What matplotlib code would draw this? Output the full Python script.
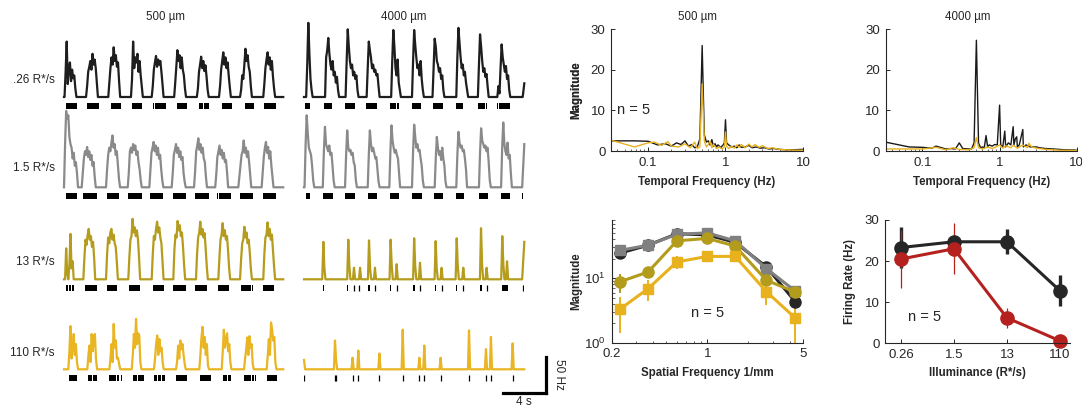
import matplotlib
matplotlib.use('Agg')
import matplotlib.pyplot as plt

plt.rcParams['font.family'] = ['Liberation Sans', 'DejaVu Sans']
plt.rcParams['mathtext.fontset'] = 'custom'
plt.rcParams['mathtext.rm'] = 'Liberation Sans'
plt.rcParams['mathtext.it'] = 'Liberation Sans:italic'
plt.rcParams['mathtext.bf'] = 'Liberation Sans:bold'
INK = '#262626'

# ------------------------------------------------------------------ data
row_labels = ['.26 R*/s', '1.5 R*/s', '13 R*/s', '110 R*/s']
col_titles = ['500 \u00b5m', '4000 \u00b5m']
trace_colors = ['#1e1e1e', '#8a8a8a', '#b59c1d', '#e9b522']

# --- 500 um, 0.26 R*/s
on_a1 = [0.05, 2.04, 4.1, 6.2, 8.12, 10.2, 12.3, 14.35, 16.3, 18.45]
pr_a1 = [[0, 35, 77, 18, 40, 48, 22, 38, 26, 30, 12, 0],
         [0, 15, 35, 42, 50, 38, 60, 45, 52, 40, 20, 0],
         [0, 20, 40, 55, 45, 69, 50, 58, 42, 48, 22, 0],
         [0, 25, 77, 40, 55, 48, 60, 35, 50, 30, 15, 0],
         [0, 15, 38, 48, 57, 42, 52, 45, 50, 35, 18, 0],
         [0, 20, 42, 65, 50, 58, 40, 55, 38, 30, 12, 0],
         [0, 12, 35, 45, 56, 40, 50, 36, 44, 28, 10, 0],
         [0, 15, 38, 50, 62, 45, 55, 40, 48, 30, 14, 0],
         [0, 10, 30, 25, 45, 67, 50, 58, 42, 35, 15, 0],
         [0, 18, 40, 52, 62, 45, 55, 38, 50, 28, 12, 0]]
ends_a1 = ([20.3], [0])
ras_a1 = [[0.19, 1.18], [2.16, 3.27], [4.32, 5.25], [6.32, 7.25], [8.27, 8.35], [8.45, 9.42],
          [10.49, 11.42], [12.5, 12.9], [13.0, 13.45], [14.6, 15.58], [16.55, 16.62],
          [16.75, 17.6], [18.55, 19.63]]

# --- 500 um, 1.5 R*/s
on_a2 = [0.0, 1.64, 3.89, 5.9, 7.9, 9.97, 12.04, 14.0, 16.14, 18.3]
pr_a2 = [[0, 60, 106, 95, 100, 70, 60, 55, 40, 48, 30, 35, 20, 0],
         [0, 20, 40, 50, 45, 56, 42, 50, 38, 45, 30, 35, 15, 0],
         [0, 25, 45, 55, 50, 62, 72, 55, 60, 45, 50, 30, 12, 0],
         [0, 20, 50, 55, 48, 60, 52, 58, 45, 50, 35, 25, 10, 0],
         [0, 25, 48, 55, 63, 50, 58, 45, 55, 40, 45, 25, 10, 0],
         [0, 20, 45, 52, 60, 48, 55, 42, 50, 38, 42, 20, 8, 0],
         [0, 22, 50, 58, 68, 52, 60, 48, 55, 40, 35, 15, 0],
         [0, 18, 42, 50, 58, 45, 52, 40, 48, 35, 38, 20, 0],
         [0, 15, 30, 45, 50, 65, 48, 55, 42, 50, 35, 18, 0],
         [0, 20, 42, 55, 63, 48, 56, 40, 50, 30, 15, 0]]
ends_a2 = ([20.3], [0])
ras_a2 = [[0.16, 1.18], [1.79, 3.03], [3.95, 5.09], [5.95, 7.19], [7.96, 9.19], [10.06, 11.3],
          [12.13, 13.43], [14.14, 14.3], [14.38, 15.46], [16.3, 17.53], [18.4, 19.63]]

# --- 500 um, 13 R*/s
on_a3 = [0.1, 1.79, 3.89, 5.95, 8.12, 10.12, 12.22, 14.29, 16.3, 18.45]
pr_a3 = [[0, 43, 8, 0, 20, 63, 15, 25, 0],
         [0, 30, 55, 48, 62, 70, 55, 60, 45, 52, 30, 0],
         [0, 35, 58, 50, 65, 70, 55, 62, 50, 45, 25, 0],
         [0, 30, 55, 60, 84, 65, 72, 60, 68, 55, 30, 0],
         [0, 35, 60, 55, 70, 80, 65, 72, 58, 50, 25, 0],
         [0, 40, 62, 58, 81, 68, 75, 60, 65, 45, 20, 0],
         [0, 35, 58, 65, 80, 62, 70, 58, 64, 42, 18, 0],
         [0, 30, 55, 62, 78, 60, 68, 55, 60, 40, 15, 0],
         [0, 28, 50, 55, 73, 58, 65, 50, 55, 38, 15, 0],
         [0, 35, 58, 62, 79, 60, 70, 55, 62, 40, 18, 0]]
ends_a3 = ([20.3], [0])
ras_a3 = [[0.19, 0.35], [0.46, 0.62], [0.77, 0.93], [1.94, 3.03], [3.95, 4.94], [6.05, 7.04],
          [8.21, 9.26], [10.12, 11.3], [12.13, 13.27], [14.29, 15.31], [16.36, 17.3],
          [17.4, 17.53], [18.46, 19.44]]

# --- 500 um, 110 R*/s
on_a4 = [0.4, 2.16, 4.2, 6.27, 8.33, 10.37, 12.53, 14.6, 16.67, 18.77]
pr_a4 = [[0, 25, 60, 15, 30, 49, 20, 35, 10, 0],
         [0, 20, 33, 10, 49, 25, 45, 49, 15, 0],
         [0, 15, 35, 10, 63, 30, 40, 15, 16, 8, 0],
         [0, 20, 49, 30, 70, 35, 50, 47, 10, 0],
         [0, 15, 35, 47, 20, 42, 25, 30, 10, 0],
         [0, 10, 33, 15, 40, 28, 35, 20, 8, 0],
         [0, 20, 45, 59, 30, 45, 20, 35, 5, 0],
         [0, 25, 55, 30, 40, 50, 25, 35, 10, 0],
         [0, 15, 28, 44, 20, 46, 30, 35, 8, 0],
         [0, 20, 42, 20, 65, 55, 40, 45, 10, 0]]
ends_a4 = ([20.3], [0])
ras_a4 = [[0.46, 1.23], [2.25, 2.6], [2.68, 3.09], [4.2, 4.5], [4.58, 4.85], [4.93, 5.1],
          [5.25, 5.34], [6.42, 6.8], [6.88, 7.41], [8.33, 8.6], [8.68, 9.0], [9.08, 9.35],
          [10.37, 10.7], [10.78, 11.36], [12.59, 13.58], [14.7, 15.1], [15.18, 15.46],
          [16.67, 17.3], [17.38, 17.6], [17.7, 17.78], [18.77, 19.69]]

# --- 4000 um, 0.26 R*/s
on_b1 = [0.2, 1.95, 3.85, 5.8, 8.07, 10.0, 11.9, 14.1, 16.1, 17.9]
pr_b1 = [[0, 45, 103, 60, 25, 10, 0],
         [0, 55, 65, 82, 60, 45, 38, 50, 30, 35, 20, 28, 10, 0],
         [0, 50, 94, 70, 50, 40, 45, 30, 35, 25, 30, 10, 0],
         [0, 40, 77, 65, 55, 40, 45, 35, 38, 30, 32, 15, 0],
         [0, 50, 93, 70, 40, 30, 52, 20, 10, 0],
         [0, 50, 93, 72, 55, 40, 45, 30, 50, 25, 10, 0],
         [0, 40, 81, 70, 50, 45, 35, 40, 25, 30, 10, 0],
         [0, 55, 96, 75, 55, 40, 45, 30, 35, 20, 10, 0],
         [0, 45, 87, 70, 50, 35, 40, 28, 32, 15, 0],
         [0, 15, 5, 40, 73, 55, 45, 35, 43, 25, 30, 10, 0]]
ends_b1 = ([20.25, 20.4], [0, 19])
ras_b1 = [[0.09, 0.56], [1.88, 2.56], [3.8, 4.72], [5.74, 6.73], [7.96, 8.52], [8.64, 8.8],
          [9.97, 10.83], [11.91, 12.9], [14.07, 14.75], [16.08, 16.76], [16.82, 16.94],
          [17.84, 17.93], [18.05, 19.07]]

# --- 4000 um, 1.5 R*/s
on_b2 = [0.05, 1.74, 3.8, 5.9, 7.9, 10.0, 12.1, 14.1, 16.2, 18.25]
pr_b2 = [[0, 60, 100, 75, 55, 50, 45, 30, 10, 0],
         [0, 50, 84, 60, 55, 50, 58, 45, 48, 30, 10, 0],
         [0, 45, 79, 55, 50, 52, 45, 48, 35, 30, 10, 0],
         [0, 45, 79, 60, 50, 55, 48, 40, 42, 25, 8, 0],
         [0, 50, 86, 65, 55, 48, 52, 45, 40, 20, 0],
         [0, 50, 87, 70, 55, 60, 50, 52, 40, 30, 10, 0],
         [0, 40, 70, 55, 45, 50, 38, 55, 40, 30, 8, 0],
         [0, 45, 77, 62, 55, 58, 50, 52, 40, 25, 0],
         [0, 48, 82, 65, 60, 55, 58, 50, 55, 35, 10, 0],
         [0, 55, 90, 60, 50, 45, 62, 40, 45, 20, 0]]
ends_b2 = ([20.2, 20.4], [0, 60])
ras_b2 = [[0.19, 0.56], [1.79, 2.65], [3.8, 4.72], [5.9, 6.79], [7.96, 8.83], [10.0, 10.9],
          [12.07, 12.9], [14.07, 14.81], [16.17, 17.07], [18.24, 19.07], [20.2, 20.3]]

# --- 4000 um, 13 R*/s
on_b3 = [1.69, 4.0, 4.53, 5.09, 5.92, 6.47, 7.92, 8.48, 10.1, 10.64, 12.09, 12.64,
         14.04, 14.65, 16.29, 16.81, 18.26, 18.7]
pr_b3 = [[0, 52, 15, 0], [0, 55, 18, 0], [0, 16, 0], [0, 16, 0], [0, 54, 15, 0], [0, 16, 0],
         [0, 55, 20, 0], [0, 21, 0], [0, 57, 18, 0], [0, 23, 0], [0, 53, 15, 0], [0, 16, 0],
         [0, 57, 18, 0], [0, 16, 0], [0, 71, 20, 0], [0, 16, 0], [0, 60, 20, 0], [0, 25, 0]]
ends_b3 = ([20.2, 20.4], [0, 52])
ras_b3 = [[1.74, 1.86], [3.98, 4.12], [5.96, 6.08], [7.95, 8.1], [10.13, 10.27],
          [12.12, 12.26], [14.07, 14.21], [16.32, 16.46], [18.3, 18.92]]
tick_b3 = [4.63, 5.12, 6.57, 8.58, 10.74, 12.74, 14.75, 16.91, 20.25]

# --- 4000 um, 110 R*/s
on_b4 = [2.77, 4.4, 4.93, 6.88, 9.04, 10.58, 11.04, 12.55, 15.18, 16.75, 17.21, 19.22]
pr_b4 = [[0, 40, 13, 0], [0, 16, 0], [0, 26, 0], [0, 22, 0], [0, 55, 0], [0, 16, 0],
         [0, 33, 0], [0, 16, 0], [0, 54, 0], [0, 28, 0], [0, 45, 0], [0, 36, 0]]
starts_b4 = ([0.0, 0.1], [13, 0])
ends_b4 = ([20.4], [0])
tick_b4 = [0.0, 2.87, 3.0, 4.5, 5.03, 6.98, 9.14, 10.68, 11.14, 12.65, 15.28, 16.85, 17.31, 19.32]

# --- temporal spectra
tf_500_dim = [0.033, 0.067, 0.1, 0.133, 0.167, 0.2, 0.233, 0.267, 0.3, 0.333, 0.367, 0.4,
              0.433, 0.467, 0.5, 0.533, 0.567, 0.6, 0.633, 0.667, 0.7, 0.733, 0.767, 0.8,
              0.833, 0.867, 0.9, 0.933, 0.967, 1.0, 1.033, 1.1, 1.2, 1.3, 1.4, 1.5, 1.6, 1.8,
              2.0, 2.2, 2.5, 2.8, 3.2, 3.6, 4.2, 5.0, 6.0, 7.5, 10.0]
mag_500_dim = [2.5, 2.5, 2.4, 1.5, 1.8, 1.2, 2.0, 1.6, 2.5, 1.2, 1.6, 0.8,
               1.0, 3.0, 26.0, 4.0, 2.2, 2.5, 1.5, 2.8, 1.2, 1.8, 1.0, 1.5,
               1.2, 0.8, 1.2, 1.5, 2.0, 7.7, 2.0, 1.5, 1.0, 1.2, 0.8, 1.5, 0.9, 1.0,
               1.4, 0.8, 1.0, 0.7, 0.8, 0.5, 0.6, 0.4, 0.3, 0.3, 0.4]
tf_500_bright = [0.033, 0.067, 0.1, 0.12, 0.15, 0.18, 0.2, 0.25, 0.3, 0.35, 0.4, 0.433,
                 0.467, 0.5, 0.533, 0.567, 0.6, 0.633, 0.667, 0.7, 0.767, 0.833, 0.9, 0.967,
                 1.0, 1.033, 1.1, 1.2, 1.3, 1.4, 1.5, 1.6, 1.8, 2.0, 2.2, 2.4, 2.7, 3.0, 3.5,
                 4.0, 5.0, 6.0, 8.0, 10.0]
mag_500_bright = [2.7, 1.0, 2.0, 2.2, 1.4, 2.3, 1.2, 1.0, 1.8, 0.8, 2.2, 0.6,
                  1.0, 16.5, 2.5, 1.0, 1.6, 2.4, 0.8, 1.6, 0.6, 1.0, 0.5, 1.0,
                  4.7, 1.2, 0.6, 1.2, 0.7, 1.5, 0.9, 1.6, 0.8, 1.7, 1.0, 1.6, 0.9, 1.3, 0.6,
                  0.8, 0.4, 0.3, 0.2, 0.2]
tf_4000_dim = [0.033, 0.067, 0.1, 0.133, 0.15, 0.2, 0.233, 0.267, 0.3, 0.333, 0.4, 0.433,
               0.467, 0.5, 0.533, 0.567, 0.6, 0.633, 0.667, 0.7, 0.733, 0.8, 0.867, 0.933,
               1.0, 1.033, 1.1, 1.167, 1.2, 1.3, 1.4, 1.5, 1.533, 1.6, 1.667, 1.7, 1.8, 2.0,
               2.033, 2.2, 2.5, 3.0, 3.3, 4.0, 5.0, 7.0, 10.0]
mag_4000_dim = [2.2, 1.0, 0.9, 0.7, 1.2, 0.5, 0.6, 0.5, 2.0, 0.6, 0.5, 0.5,
                2.0, 27.3, 2.0, 0.8, 1.0, 0.8, 3.8, 1.0, 1.5, 1.2, 1.6, 1.5,
                11.3, 1.5, 1.0, 4.9, 1.0, 2.0, 1.5, 6.0, 1.5, 3.0, 3.5, 1.0, 1.5, 5.3,
                1.0, 1.5, 1.0, 1.0, 0.8, 0.6, 0.5, 0.3, 0.2]
tf_4000_bright = [0.033, 0.067, 0.1, 0.15, 0.2, 0.25, 0.3, 0.4, 0.467, 0.5, 0.533, 0.6, 0.7,
                  0.8, 0.9, 1.0, 1.1, 1.2, 1.4, 1.5, 1.7, 2.0, 2.3, 2.4, 2.6, 3.0, 4.0, 6.0,
                  10.0]
mag_4000_bright = [0.5, 0.5, 0.5, 0.9, 0.3, 0.8, 0.4, 0.3, 0.8, 3.3, 0.8, 0.5, 1.0,
                   0.6, 1.0, 1.5, 0.7, 1.3, 0.8, 1.4, 0.7, 1.5, 0.8, 1.9, 1.0, 0.7, 0.4, 0.2,
                   0.1]

# --- spatial tuning
sf = [0.23, 0.37, 0.6, 1.0, 1.6, 2.7, 4.4]
sp_026 = [24.5, 32.5, 49, 47, 36, 15, 4.3]
sp_026_err = [2, 2, 2.5, 2, 2, 2.7, 0.8]
sp_15 = [27, 32.5, 48, 50.5, 38, 14.1, 6.3]
sp_15_err = [2, 2, 2, 2, 2, 2, 1]
sp_13 = [8.8, 12.5, 38, 41.5, 31.5, 9.3, 6.1]
sp_13_err = [3, 2, 3, 3, 3, 2, 1]
sp_110 = [3.3, 6.9, 17.9, 21.8, 21.8, 6.2, 2.4]
sp_110_err = [1.9, 2.5, 4, 2, 2, 2.4, 1.5]

# --- firing rate vs illuminance
illum = ['0.26', '1.5', '13', '110']
fr_500 = [23.3, 24.7, 24.7, 12.8]
fr_500_err = [5, 1, 3, 3.8]
fr_4000 = [20.5, 23.0, 6.2, 0.6]
fr_4000_err = [7, 6.2, 2.5, 0.5]

# ------------------------------------------------------------------ layout
W, H = 1082, 407
fig = plt.figure(figsize=(W / 100, H / 100), dpi=100)


def ax_px(l, t, r, b):
    return fig.add_axes([l / W, 1 - b / H, (r - l) / W, (b - t) / H])


def trace_xy(starts, onsets, profiles, ends, dt=0.1):
    ts, vs = list(starts[0]), list(starts[1])
    for on, prof in zip(onsets, profiles):
        for i, v in enumerate(prof):
            ts.append(on + i * dt)
            vs.append(v)
    ts += ends[0]
    vs += ends[1]
    return ts, vs


SEC_PX, HZ_PX, TMAX, YB, YT = 10.8, 0.72, 20.4, -20, 110
col_x0 = [64, 304]
row_base = [97, 187.3, 279.3, 369.3]
zero = ([0.0], [0])

traces = [
    [(zero, on_a1, pr_a1, ends_a1, ras_a1, []),
     (zero, on_a2, pr_a2, ends_a2, ras_a2, []),
     (zero, on_a3, pr_a3, ends_a3, ras_a3, []),
     (zero, on_a4, pr_a4, ends_a4, ras_a4, [])],
    [(zero, on_b1, pr_b1, ends_b1, ras_b1, []),
     (zero, on_b2, pr_b2, ends_b2, ras_b2, []),
     (zero, on_b3, pr_b3, ends_b3, ras_b3, tick_b3),
     (starts_b4, on_b4, pr_b4, ends_b4, [], tick_b4)],
]

last_ax = None
for c in range(2):
    for r in range(4):
        yb = row_base[r]
        x0 = col_x0[c]
        ax = ax_px(x0, yb - YT * HZ_PX, x0 + TMAX * SEC_PX, yb - YB * HZ_PX)
        ax.set_xlim(0, TMAX)
        ax.set_ylim(YB, YT)
        ax.axis('off')
        st, on, pr, en, ras, tk = traces[c][r]
        ts, vs = trace_xy(st, on, pr, en)
        ax.plot(ts, vs, color=trace_colors[r], lw=1.6, clip_on=False)
        if ras:
            ax.broken_barh([(a, b - a) for a, b in ras], (-16, 8), facecolors='black')
        if tk:
            ax.vlines(tk, -16, -8, color='black', lw=0.9)
        last_ax = ax

# scale bar (in data units of the last trace axes: 4 s, 50 Hz)
last_ax.plot([22.4, 22.4], [-32.5, 17.5], color='black', lw=2.3, clip_on=False,
             solid_capstyle='projecting')
last_ax.plot([18.4, 22.4], [-32.5, -32.5], color='black', lw=2.3, clip_on=False,
             solid_capstyle='projecting')
last_ax.text(20.4, -46, '4 s', ha='center', va='center', fontsize=8.5, color=INK)
last_ax.text(23.6, -7.5, '50 Hz', ha='center', va='center', rotation=270, fontsize=8.5,
             color=INK)

label_y = [80, 168.3, 261.7, 353.3]
for r in range(4):
    fig.text(55 / W, 1 - label_y[r] / H, row_labels[r], ha='right', va='center',
             fontsize=8.5, color=INK)
fig.text(166 / W, 1 - 17 / H, col_titles[0], ha='center', va='center', fontsize=8.3,
         color=INK)
fig.text(404 / W, 1 - 17 / H, col_titles[1], ha='center', va='center', fontsize=8.3,
         color=INK)


def style(ax):
    for s in ('top', 'right'):
        ax.spines[s].set_visible(False)
    for s in ('left', 'bottom'):
        ax.spines[s].set_color(INK)
        ax.spines[s].set_linewidth(0.8)
    ax.tick_params(which='both', direction='in', colors=INK, labelsize=9.5)
    ax.tick_params(which='major', length=3, width=0.7, pad=4)
    ax.tick_params(which='minor', length=1.8, width=0.5)
    ax.set_facecolor('none')


YEL = '#e8b21e'
# temporal spectra
fft_specs = [(611, 803, tf_500_dim, mag_500_dim, tf_500_bright, mag_500_bright, '500 \u00b5m', 697),
             (885.7, 1076.7, tf_4000_dim, mag_4000_dim, tf_4000_bright, mag_4000_bright,
              '4000 \u00b5m', 967.5)]
for i, (l, rr, fd, md, fb, mb, ttl, tx) in enumerate(fft_specs):
    ax = ax_px(l, 29.3, rr, 151)
    ax.plot(fd, md, color='#1a1a1a', lw=1.0)
    ax.plot(fb, mb, color=YEL, lw=1.0)
    ax.set_xscale('log')
    ax.set_xlim(1 / 30, 10)
    ax.set_ylim(0, 30)
    ax.set_yticks([0, 10, 20, 30])
    ax.set_xticks([0.1, 1, 10])
    ax.set_xticklabels(['0.1', '1', '10'])
    style(ax)
    ax.set_xlabel('Temporal Frequency (Hz)', fontsize=8.3, fontweight='bold', color=INK,
                  va='center')
    ax.xaxis.set_label_coords(0.5, (151 - 181.7) / 121.7)
    ax.set_ylabel('Magnitude', fontsize=8.3, fontweight='bold', color=INK, va='center')
    ax.yaxis.set_label_coords((576.7 - l) / (rr - l), 0.5)
    fig.text(tx / W, 1 - 16.7 / H, ttl, ha='center', va='center', fontsize=8.3, color=INK)
    if i == 0:
        ax.text(0.04, 10, 'n = 5', fontsize=10.5, color=INK, va='center', ha='left')

# spatial tuning
ax = ax_px(611.5, 220, 803, 342.7)
sp_series = [(sp_026, sp_026_err, '#262626', 'o', 8),
             (sp_15, sp_15_err, '#808080', 's', 7),
             (sp_13, sp_13_err, '#b39b1c', 'o', 8),
             (sp_110, sp_110_err, '#e8b21e', 's', 7)]
for y, e, col, mk, ms in sp_series:
    ax.errorbar(sf, y, yerr=e, color=col, marker=mk, ms=ms, lw=2.2, elinewidth=1.4,
                capsize=0, mfc=col, mec=col)
ax.set_xscale('log')
ax.set_yscale('log')
ax.set_xlim(0.2, 5)
ax.set_ylim(1, 80)
ax.set_xticks([0.2, 1, 5])
ax.set_xticklabels(['0.2', '1', '5'])
style(ax)
ax.set_xlabel('Spatial Frequency 1/mm', fontsize=8.3, fontweight='bold', color=INK,
              va='center')
ax.xaxis.set_label_coords(0.5, (342.7 - 373.3) / 122.7)
ax.set_ylabel('Magnitude', fontsize=8.3, fontweight='bold', color=INK, va='center')
ax.yaxis.set_label_coords((576.7 - 611.5) / 191.5, 0.5)
ax.text(1.0, 2.9, 'n = 5', fontsize=10.5, color=INK, va='center', ha='center')

# firing rate vs illuminance
ax = ax_px(885, 220, 1070, 343.3)
xs = list(range(1, len(illum) + 1))
ax.errorbar(xs, fr_500, yerr=fr_500_err, color='#262626', marker='o', ms=9.5, lw=2.2,
            elinewidth=2.4, capsize=0, clip_on=False)
ax.errorbar(xs, fr_4000, yerr=fr_4000_err, color='#b5211f', marker='o', ms=9.5, lw=2.2,
            elinewidth=0.9, capsize=0, clip_on=False)
ax.set_xlim(0.7, 4.19)
ax.set_ylim(0, 30)
ax.set_xticks(xs)
ax.set_xticklabels(illum)
ax.set_yticks([0, 10, 20, 30])
style(ax)
ax.set_xlabel('Illuminance (R*/s)', fontsize=8.3, fontweight='bold', color=INK, va='center')
ax.xaxis.set_label_coords(0.5, (343.3 - 373.3) / 123.3)
ax.set_ylabel('Firing Rate (Hz)', fontsize=8.3, fontweight='bold', color=INK, va='center')
ax.yaxis.set_label_coords((850 - 885) / 185, 0.5)
ax.text(1.45, 6.3, 'n = 5', fontsize=10.5, color=INK, va='center', ha='center')

fig.savefig('out.png', dpi=100)
